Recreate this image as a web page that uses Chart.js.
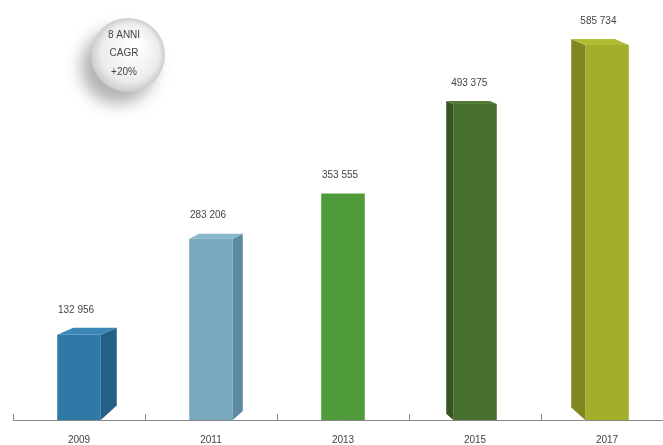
<!DOCTYPE html>
<html>
<head>
<meta charset="utf-8">
<script src="https://cdn.jsdelivr.net/npm/chart.js@4.4.1/dist/chart.umd.min.js"></script>
<style>
  html, body { margin: 0; padding: 0; background: #fff; overflow: hidden; }
  #wrap { width: 673px; height: 454px; }
</style>
</head>
<body>
<div id="wrap"><canvas id="fatturato"></canvas></div>
<script>
// Dati
const anni = ['2009', '2011', '2013', '2015', '2017'];
const valori = [132956, 283206, 353555, 493375, 585734];
const cagrRighe = ['8 ANNI', 'CAGR', '+20%'];

// Colori delle facce (fronte, lato, sopra)
const coloriFronte = ['#2f79a7', '#79a9bf', '#4f9b3c', '#476f30', '#a3ae2a'];
const coloriLato = ['#245f87', '#5c8ba1', '#3f8231', '#36561f', '#7e8720'];
const coloriSopra = ['#3b87b5', '#88b6cb', '#5aa646', '#527c38', '#b2bd36'];
// profondità prospettica: positivo = lato destro, negativo = lato sinistro
const profondita = [16, 10, 0, -7, -14];

const formatta = v => String(v).replace(/\B(?=(\d{3})+(?!\d))/g, ' ');

// Disegna lati e tetti delle barre, le etichette e la bolla CAGR
const barre3d = {
    id: 'barre3d',
    afterDatasetsDraw(chart) {
        const ctx = chart.ctx;
        const meta = chart.getDatasetMeta(0);
        meta.data.forEach((bar, i) => {
            const d = profondita[i];
            const half = bar.width / 2;
            const left = bar.x - half, right = bar.x + half;
            const top = bar.y, bottom = bar.base;
            const dy = Math.round(Math.abs(d) * 0.45);
            const db = Math.abs(d) * 0.9;
            ctx.save();
            if (d !== 0) {
                // faccia laterale
                const edge = d > 0 ? right : left;
                ctx.fillStyle = coloriLato[i];
                ctx.beginPath();
                ctx.moveTo(edge, top);
                ctx.lineTo(edge + d, top - dy);
                ctx.lineTo(edge + d, bottom - db);
                ctx.lineTo(edge, bottom);
                ctx.closePath();
                ctx.fill();
                // tetto
                ctx.fillStyle = coloriSopra[i];
                ctx.beginPath();
                ctx.moveTo(left, top);
                ctx.lineTo(left + d, top - dy);
                ctx.lineTo(right + d, top - dy);
                ctx.lineTo(right, top);
                ctx.closePath();
                ctx.fill();
            }
            // valore sopra la barra
            ctx.fillStyle = '#444';
            ctx.font = '10px "Liberation Sans", Arial, sans-serif';
            ctx.textAlign = 'center';
            ctx.textBaseline = 'middle';
            const sx = d < 0 ? d * 0.4 : 0;
            ctx.fillText(formatta(valori[i]), bar.x - 3 + sx, top - dy - 18);
            ctx.restore();
        });

        // piccole tacche sull'asse, tra le categorie
        const area = chart.chartArea;
        const passo = (area.right - area.left) / anni.length;
        ctx.save();
        ctx.strokeStyle = '#888';
        ctx.lineWidth = 1;
        for (let k = 0; k < anni.length; k++) {
            const x = Math.round(area.left + k * passo) + 0.5;
            ctx.beginPath();
            ctx.moveTo(x, area.bottom + 1);
            ctx.lineTo(x, area.bottom - 6);
            ctx.stroke();
        }
        ctx.restore();

        // bolla CAGR
        const cx = 128, cy = 55, r = 37;
        ctx.save();
        ctx.shadowColor = 'rgba(0,0,0,0.3)';
        ctx.shadowBlur = 16;
        ctx.shadowOffsetX = -10;
        ctx.shadowOffsetY = 12;
        const g = ctx.createRadialGradient(cx + 8, cy - 10, 4, cx, cy, r);
        g.addColorStop(0, '#ffffff');
        g.addColorStop(0.75, '#ececec');
        g.addColorStop(1, '#cccccc');
        ctx.fillStyle = g;
        ctx.beginPath();
        ctx.arc(cx, cy, r, 0, Math.PI * 2);
        ctx.fill();
        ctx.restore();
        ctx.save();
        ctx.fillStyle = '#444';
        ctx.font = '10px "Liberation Sans", Arial, sans-serif';
        ctx.textAlign = 'center';
        ctx.textBaseline = 'middle';
        cagrRighe.forEach((t, k) => ctx.fillText(t, cx - 4, cy - 20 + k * 18.5));
        ctx.restore();
    }
};

const ctx = document.getElementById('fatturato').getContext('2d');

const grafico = new Chart(ctx, {
    type: 'bar',
    data: {
        labels: anni,
        datasets: [{
            data: valori,
            backgroundColor: coloriFronte,
            borderWidth: 0,
            barPercentage: 0.33,
            categoryPercentage: 1
        }]
    },
    options: {
        responsive: true,
        maintainAspectRatio: false,
        animation: false,
        layout: { padding: { left: 13, right: 0, top: 5, bottom: 2 } },
        plugins: {
            legend: { display: false },
            tooltip: { enabled: false }
        },
        scales: {
            x: {
                grid: { display: false },
                border: { color: '#888', width: 1 },
                ticks: {
                    color: '#444',
                    padding: 6,
                    font: { size: 10, family: '"Liberation Sans", Arial, sans-serif' }
                }
            },
            y: {
                display: false,
                beginAtZero: true,
                max: 648000
            }
        }
    },
    plugins: [barre3d]
});
</script>
</body>
</html>
